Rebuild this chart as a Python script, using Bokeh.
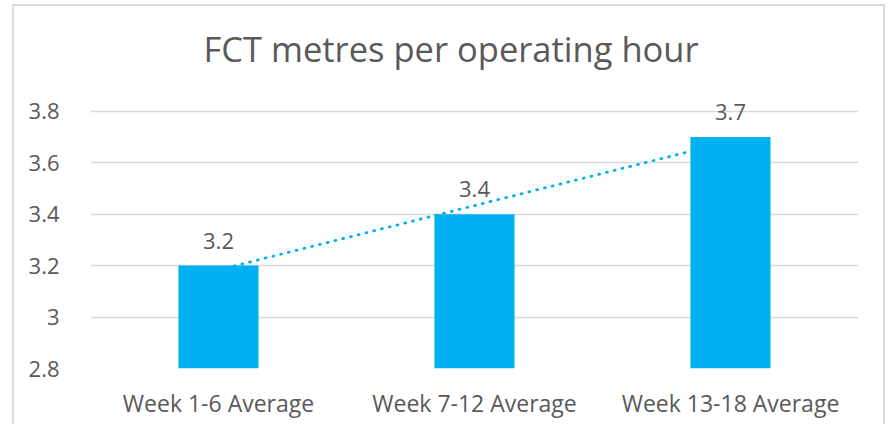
import numpy as np
from bokeh.plotting import figure
from bokeh.models import ColumnDataSource, FactorRange, Range1d, FixedTicker, LabelSet
from bokeh.core.properties import value
from bokeh.embed import file_html
from bokeh.resources import INLINE

# ---- data ----
categories = ["Week 1-6 Average", "Week 7-12 Average", "Week 13-18 Average"]
values = [3.2, 3.4, 3.7]
value_labels = ["3.2", "3.4", "3.7"]
y_ticks = [2.8, 3.0, 3.2, 3.4, 3.6, 3.8]
y_tick_labels = ["2.8", "3", "3.2", "3.4", "3.6", "3.8"]
title_text = "FCT metres per operating hour"

BLUE = "#00B0F0"
TEXT = "#595959"
GRID = "#D9D9D9"
FONT = "Open Sans"

p = figure(
    x_range=FactorRange(*categories, range_padding=0),
    y_range=Range1d(y_ticks[0], 3.9),
    width=873, height=420,
    output_backend="svg", toolbar_location=None,
    title=title_text,
    min_border_left=76, min_border_right=29,
    min_border_top=79, min_border_bottom=58,
)
p.styles = {"margin-left": "12px", "margin-top": "4px",
            "border-top": "2px solid #D9D9D9",
            "border-left": "2px solid #D9D9D9",
            "border-right": "2px solid #D9D9D9"}

p.outline_line_color = None
p.background_fill_color = "white"
p.border_fill_color = "white"

# title
p.title.text_font = FONT
p.title.text_font_size = "34.5px"
p.title.text_font_style = "normal"
p.title.text_color = TEXT
p.title.align = "left"
p.title.offset = 113
p.title.standoff = 27

# linear trendline (least squares over category index)
idx = np.arange(1, len(values) + 1)
slope, intercept = np.polyfit(idx, values, 1)
trend_y = [intercept + slope * idx[0], intercept + slope * idx[-1]]
p.line(x=[categories[0], categories[-1]], y=trend_y, line_color=BLUE,
       line_width=2.75, line_dash="1 7", line_cap="round")

src = ColumnDataSource(dict(cat=categories, val=values, lbl=value_labels))
p.vbar(x="cat", top="val", bottom=y_ticks[0], width=0.313, source=src,
       fill_color=BLUE, line_color=None)

labels = LabelSet(x="cat", y="val", text="lbl", source=src, y_offset=25,
                  text_align="center", text_baseline="middle",
                  text_font=value(FONT), text_font_size="22px",
                  text_color=TEXT)
p.add_layout(labels)

# axes
p.yaxis.ticker = FixedTicker(ticks=y_ticks)
p.yaxis.major_label_overrides = {t: l for t, l in zip(y_ticks, y_tick_labels)}
for ax in (p.xaxis, p.yaxis):
    ax.axis_line_color = None
    ax.major_tick_line_color = None
    ax.minor_tick_line_color = None
    ax.major_label_text_font = FONT
    ax.major_label_text_color = TEXT
p.yaxis.major_label_text_font_size = "22px"
p.xaxis.major_label_text_font_size = "23px"
p.yaxis.major_label_standoff = 25
p.xaxis.major_label_standoff = 12

p.xgrid.grid_line_color = None
p.ygrid.grid_line_color = GRID
p.ygrid.grid_line_width = 1.3

open("out.html", "w").write(file_html(p, INLINE))
